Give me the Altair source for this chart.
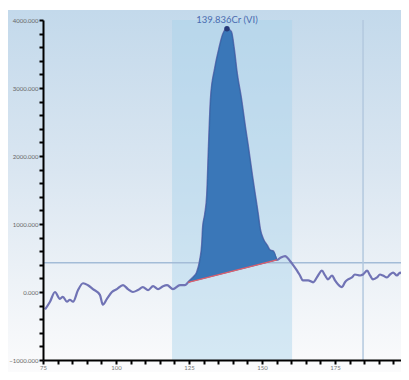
import altair as alt
import pandas as pd

# Spectrum trace (wavelength-like x, intensity y)
x_vals = [75.7, 77.4, 79.1, 80.8, 81.8, 83.2, 84.2, 85.3, 87.0, 88.7, 90.4, 92.1, 94.5, 95.5,
          96.9, 98.6, 100.3, 102.4, 104.1, 105.8, 107.5, 109.2, 111.0, 112.7, 114.4, 116.1,
          117.5, 119.5, 121.9, 123.6, 124.7, 126.4, 127.7, 128.8, 129.5, 129.8, 130.5, 131.2,
          131.8, 132.5, 133.9, 135.3, 136.6, 138.0, 139.4, 140.4, 141.4, 142.8, 144.2, 145.2,
          146.6, 147.6, 148.6, 149.3, 150.3, 151.7, 152.7, 153.8, 155.1, 156.2, 157.9, 159.6,
          160.6, 162.0, 163.0, 164.0, 165.8, 167.5, 169.2, 170.5, 171.6, 172.6, 174.0, 175.0,
          176.0, 177.4, 178.4, 179.5, 180.8, 181.8, 183.6, 184.6, 186.0, 187.0, 188.0, 189.4,
          190.4, 191.4, 192.8, 193.8, 194.9, 196.2, 197.3, 198.3, 199.7, 200.3]
y_vals = [-257, -143, 0, -100, -71, -143, -114, -143, 29, 129, 100, 43, -43, -186,
          -100, 0, 43, 100, 43, 0, 29, 71, 29, 86, 43, 86,
          100, 43, 100, 100, 143, 214, 286, 471, 714, 957, 1143, 1429,
          2143, 2857, 3286, 3571, 3786, 3871, 3829, 3571, 3214, 2857, 2429, 2143,
          1714, 1429, 1143, 929, 786, 686, 614, 600, 471, 500, 529, 457,
          400, 314, 243, 171, 171, 143, 243, 314, 243, 186, 243, 171,
          114, 71, 143, 186, 214, 257, 243, 257, 314, 243, 186, 214,
          257, 243, 214, 257, 286, 243, 286, 257, 286, 257]

peak_x = [138.0]
peak_y = [3871]
peak_label = ["139.836Cr (VI)"]

band_x = [119.2]
band_x2 = [160.3]
marker_x = [184.6]
marker_y = [430]

baseline_x = [124.7, 155.1]
baseline_y = [143, 471]

x_domain = [75, 197.6]
y_domain = [-1000, 4000]
x_ticks = list(range(75, 201, 5))
y_ticks = list(range(-1000, 4001, 200))

W, H = 358, 340

spec = pd.DataFrame({"x": x_vals, "y": y_vals})
bx0, bx1 = baseline_x
by0, by1 = baseline_y
area_df = spec[(spec.x >= bx0) & (spec.x <= bx1)].copy()
area_df["base"] = by0 + (area_df.x - bx0) * (by1 - by0) / (bx1 - bx0)
base_df = pd.DataFrame({"x": baseline_x, "y": baseline_y})
peak_df = pd.DataFrame({"x": peak_x, "y": peak_y, "label": peak_label})
band_df = pd.DataFrame({"x": band_x, "x2": band_x2})

xs = alt.Scale(domain=x_domain, nice=False, zero=False)
ys = alt.Scale(domain=y_domain, nice=False, zero=False)

x_axis = alt.Axis(values=x_ticks, labelExpr="datum.value % 25 == 0 ? datum.value : ''",
                  title=None, grid=False, domainColor="#000", domainWidth=2,
                  tickColor="#000", tickWidth=2, tickSize=4, labelFontSize=6,
                  labelColor="#777", labelPadding=0, labelFont="Lato", zindex=1,
                  labelOverlap=False, labelFlush=False)
y_axis = alt.Axis(values=y_ticks,
                  labelExpr="datum.value % 1000 == 0 ? format(datum.value, '.3f') : ''",
                  title=None, grid=False, domainColor="#000", domainWidth=2,
                  tickColor="#000", tickWidth=2, tickSize=4, labelFontSize=6,
                  labelColor="#666", labelPadding=1, labelFont="Lato", zindex=1,
                  labelOverlap=False, labelFlush=False)


def X(field):
    return alt.X(field, scale=xs, axis=x_axis)


def Y(field):
    return alt.Y(field, scale=ys, axis=y_axis)


bg = alt.Chart(pd.DataFrame({"a": [0]})).mark_rect(
    color=alt.Gradient(gradient="linear", x1=0, x2=0, y1=0, y2=1,
                       stops=[alt.GradientStop(color="#c3d9eb", offset=0),
                              alt.GradientStop(color="#dae6f1", offset=0.45),
                              alt.GradientStop(color="#edf2f7", offset=0.75),
                              alt.GradientStop(color="#fbfbfc", offset=1)])
).encode(x=alt.value(-35), x2=alt.value(W), y=alt.value(-10), y2=alt.value(H + 12))

band = alt.Chart(band_df).mark_rect(color="#a8d3ea", opacity=0.45).encode(
    x=X("x:Q"), x2="x2:Q", y=alt.value(0), y2=alt.value(H))

hline = alt.Chart(pd.DataFrame({"y": marker_y})).mark_rule(color="#a3bcd7", strokeWidth=1.5).encode(
    y=Y("y:Q"))
vline = alt.Chart(pd.DataFrame({"x": marker_x})).mark_rule(color="#b3c9df", strokeWidth=1.5).encode(
    x=X("x:Q"))

line = alt.Chart(spec).mark_line(color="#7073b5", strokeWidth=2.2, clip=True,
                                 interpolate="monotone").encode(x=X("x:Q"), y=Y("y:Q"))

area = alt.Chart(area_df).mark_area(color="#3a77b8", opacity=1, stroke="#3568a8", strokeWidth=1,
                                    interpolate="monotone").encode(
    x=X("x:Q"), y=Y("y:Q"), y2="base:Q")

base = alt.Chart(base_df).mark_line(color="#e0606c", strokeWidth=1.3).encode(
    x=X("x:Q"), y=Y("y:Q"))

dot = alt.Chart(peak_df).mark_point(filled=True, color="#263a78", size=30, opacity=1).encode(
    x=X("x:Q"), y=Y("y:Q"))
label = alt.Chart(peak_df).mark_text(dy=-9, fontSize=9.5, font="Lato", color="#4a6cb0").encode(
    x=X("x:Q"), y=Y("y:Q"), text="label:N")

chart = alt.layer(bg, band, hline, vline, line, area, base, dot, label).properties(
    width=W, height=H,
    autosize=alt.AutoSizeParams(type="none"),
    padding={"left": 35, "top": 12, "right": 0, "bottom": 12},
).configure_view(stroke=None)

chart.save("out.html", embed_options={"renderer": "svg", "actions": False})
